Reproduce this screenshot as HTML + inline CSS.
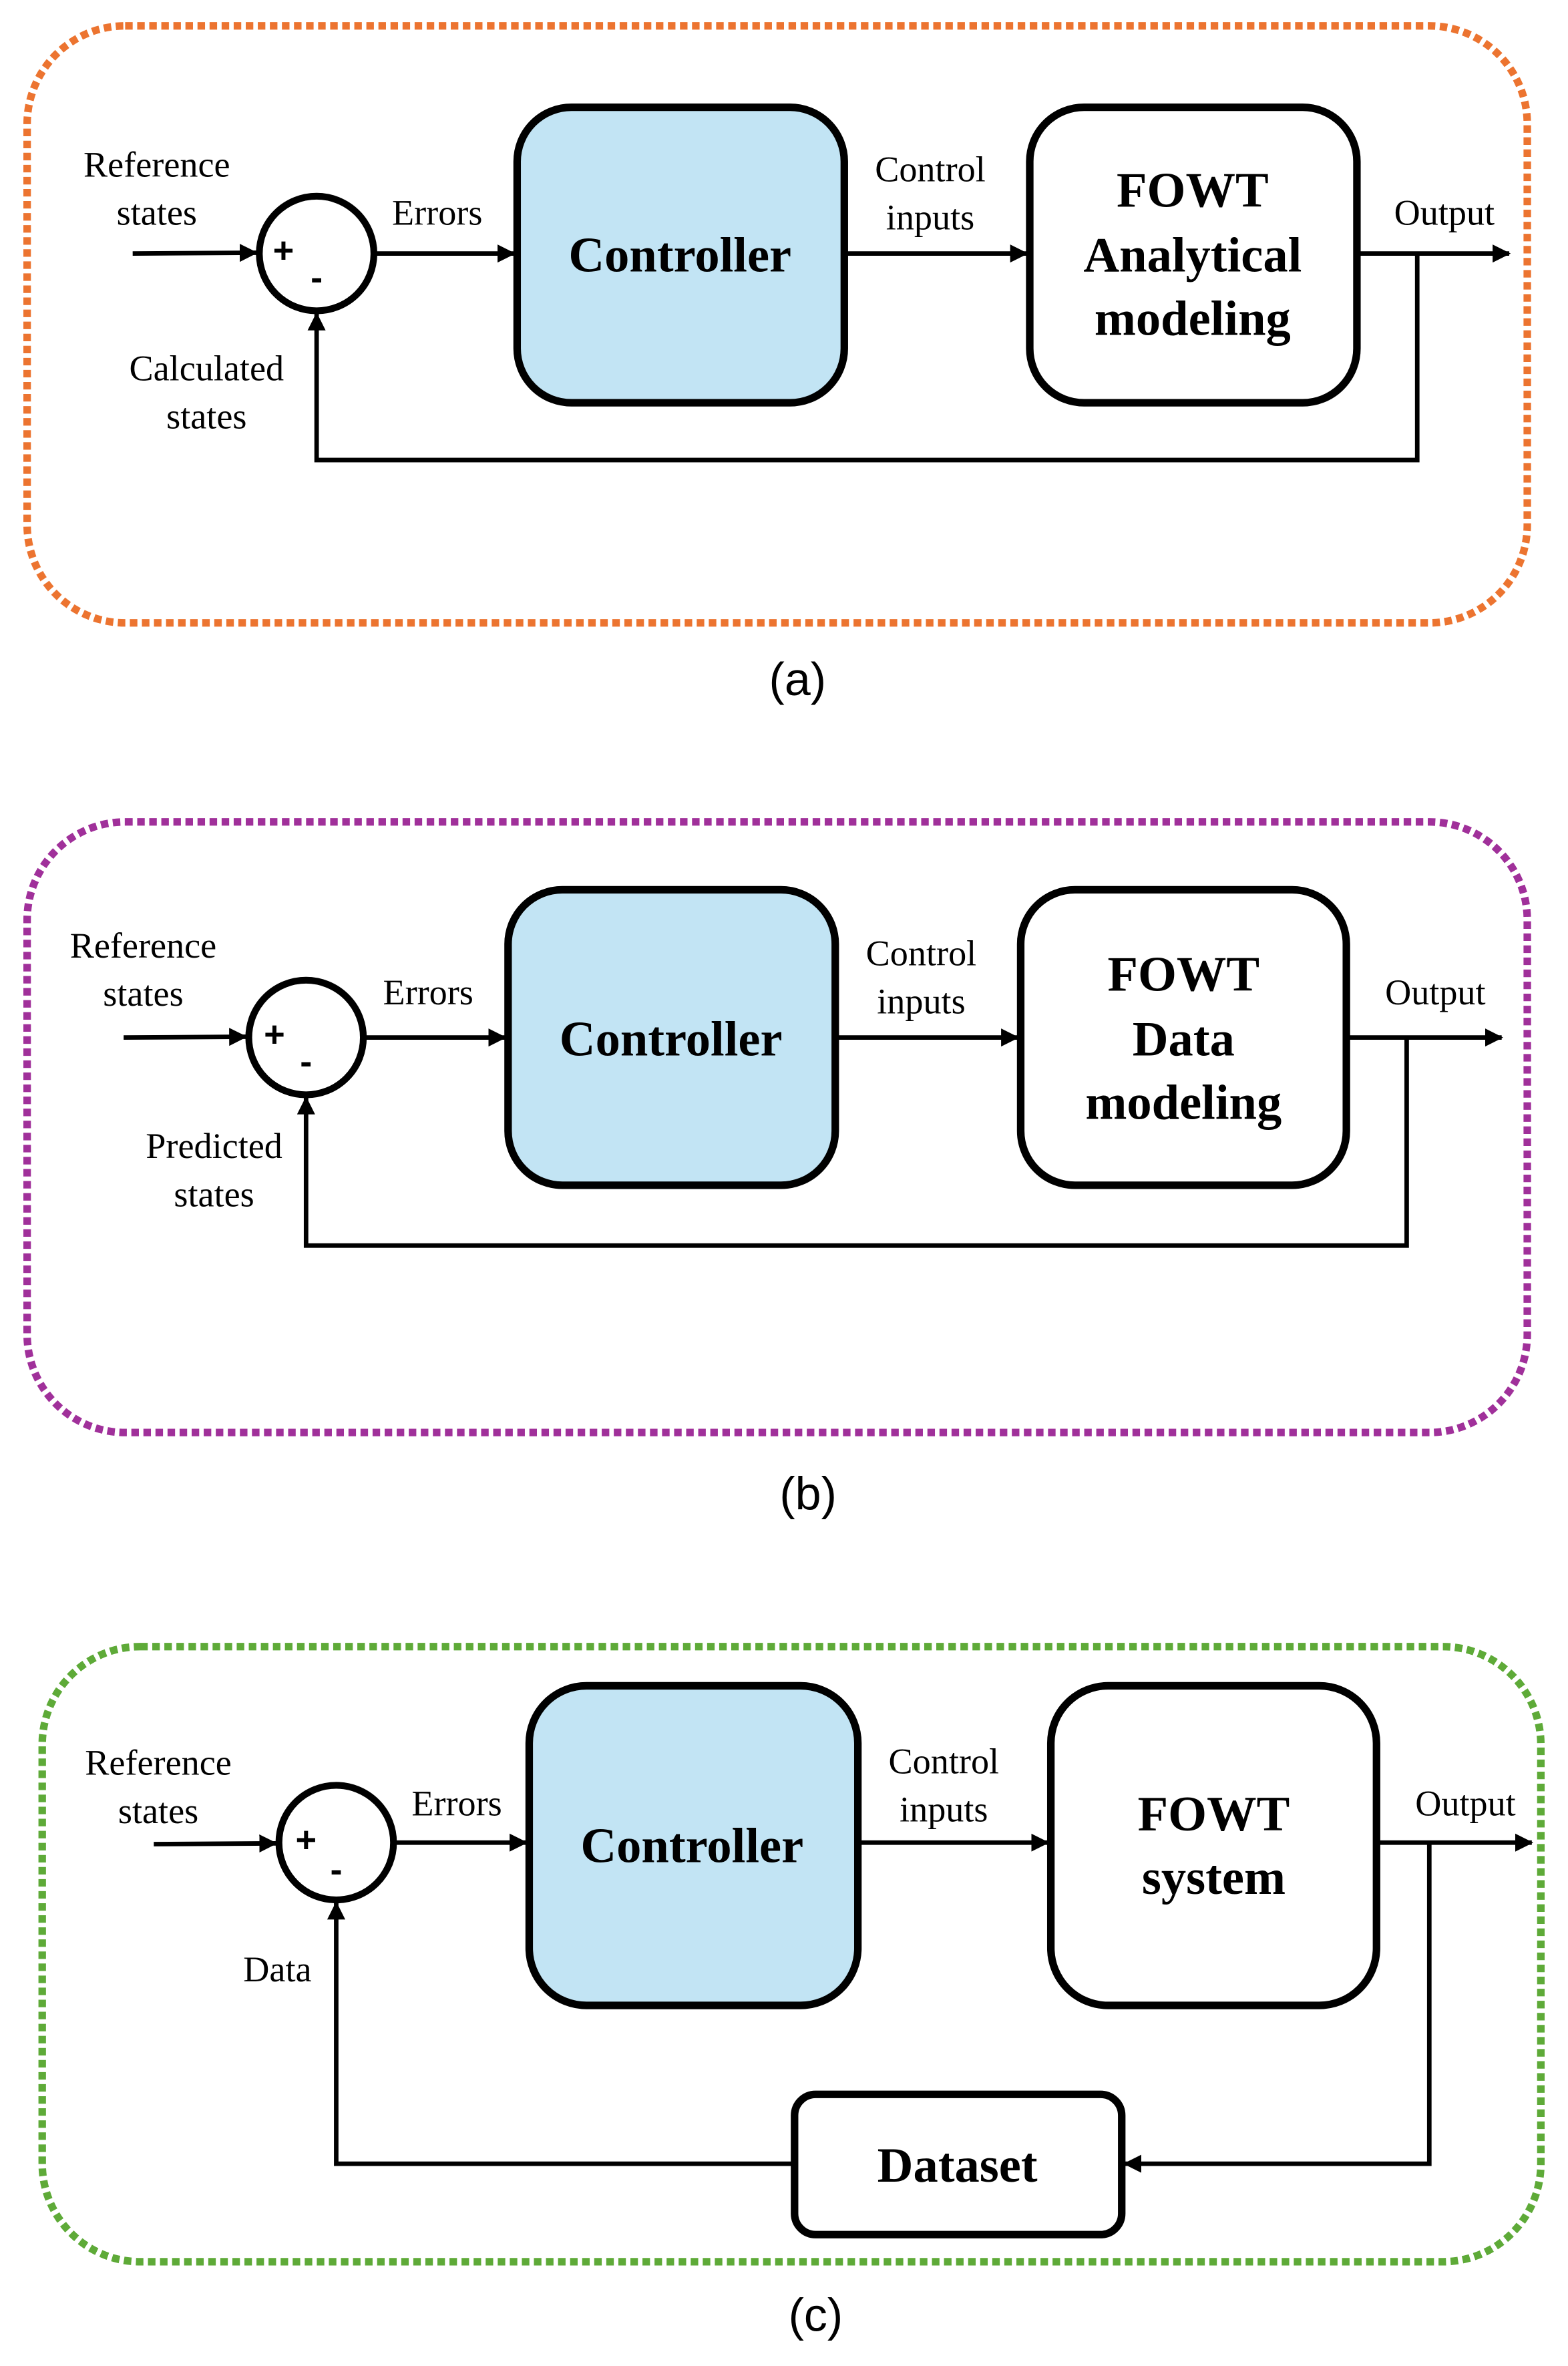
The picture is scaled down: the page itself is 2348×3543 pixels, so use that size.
<!DOCTYPE html>
<html><head><meta charset="utf-8"><style>
html,body{margin:0;padding:0;background:#fff;}
svg{display:block;}
text{font-family:"Liberation Serif","Times New Roman",serif;fill:#000;}
.lbl{font-size:24px;}
.big{font-size:33px;font-weight:bold;}
.cap{font-family:"Liberation Sans",sans-serif;font-size:31px;}
.pm{font-family:"Liberation Sans",sans-serif;font-size:24px;font-weight:bold;}
</style></head><body>
<svg width="2348" height="3543" viewBox="0 0 1040 1569" xmlns="http://www.w3.org/2000/svg">
<defs>
<marker id="ah" markerWidth="12" markerHeight="12" refX="11" refY="6" orient="auto" markerUnits="userSpaceOnUse">
<path d="M0,0 L12,6 L0,12 z" fill="#000"/></marker>
</defs>

<!-- Panel (a) -->
<rect x="18" y="17" width="995" height="396" rx="65" fill="none" stroke="#EC7430" stroke-width="5" stroke-dasharray="5 3"/>
<line x1="88" y1="168" x2="170" y2="167.5" stroke="#000" stroke-width="3" marker-end="url(#ah)"/>
<circle cx="210" cy="168" r="38" fill="#fff" stroke="#000" stroke-width="4.5"/>
<text class="pm" x="188" y="174" text-anchor="middle">+</text>
<text class="pm" x="210" y="192" text-anchor="middle">-</text>
<line x1="248" y1="168" x2="341" y2="168" stroke="#000" stroke-width="3" marker-end="url(#ah)"/>
<rect x="343" y="71" width="217" height="196" rx="36" fill="#C2E4F4" stroke="#000" stroke-width="5"/>
<line x1="560" y1="168" x2="681" y2="168" stroke="#000" stroke-width="3" marker-end="url(#ah)"/>
<rect x="683" y="71" width="217" height="196" rx="36" fill="#fff" stroke="#000" stroke-width="5"/>
<line x1="900" y1="168" x2="1001" y2="168" stroke="#000" stroke-width="3" marker-end="url(#ah)"/>
<polyline points="940,168 940,305 210,305 210,208" fill="none" stroke="#000" stroke-width="3" marker-end="url(#ah)"/>
<text class="lbl" x="104" y="117" text-anchor="middle">Reference</text>
<text class="lbl" x="104" y="149" text-anchor="middle">states</text>
<text class="lbl" x="290" y="149" text-anchor="middle">Errors</text>
<text class="lbl" x="617" y="120" text-anchor="middle">Control</text>
<text class="lbl" x="617" y="152" text-anchor="middle">inputs</text>
<text class="lbl" x="958" y="149" text-anchor="middle">Output</text>
<text class="lbl" x="137" y="252" text-anchor="middle">Calculated</text>
<text class="lbl" x="137" y="284" text-anchor="middle">states</text>
<text class="big" x="451" y="180" text-anchor="middle">Controller</text>
<text class="big" x="791" y="137" text-anchor="middle">FOWT</text>
<text class="big" x="791" y="180" text-anchor="middle">Analytical</text>
<text class="big" x="791" y="222" text-anchor="middle">modeling</text>
<text class="cap" x="529" y="461" text-anchor="middle">(a)</text>

<!-- Panel (b) -->
<rect x="18" y="545" width="995" height="405" rx="65" fill="none" stroke="#A0309A" stroke-width="5" stroke-dasharray="5 3"/>
<line x1="82" y1="688" x2="163" y2="687.5" stroke="#000" stroke-width="3" marker-end="url(#ah)"/>
<circle cx="203" cy="688" r="38" fill="#fff" stroke="#000" stroke-width="4.5"/>
<text class="pm" x="182" y="694" text-anchor="middle">+</text>
<text class="pm" x="203" y="712" text-anchor="middle">-</text>
<line x1="241" y1="688" x2="335" y2="688" stroke="#000" stroke-width="3" marker-end="url(#ah)"/>
<rect x="337" y="590" width="217" height="196" rx="36" fill="#C2E4F4" stroke="#000" stroke-width="5"/>
<line x1="554" y1="688" x2="675" y2="688" stroke="#000" stroke-width="3" marker-end="url(#ah)"/>
<rect x="677" y="590" width="216" height="196" rx="36" fill="#fff" stroke="#000" stroke-width="5"/>
<line x1="893" y1="688" x2="996" y2="688" stroke="#000" stroke-width="3" marker-end="url(#ah)"/>
<polyline points="933,688 933,826 203,826 203,728" fill="none" stroke="#000" stroke-width="3" marker-end="url(#ah)"/>
<text class="lbl" x="95" y="635" text-anchor="middle">Reference</text>
<text class="lbl" x="95" y="667" text-anchor="middle">states</text>
<text class="lbl" x="284" y="666" text-anchor="middle">Errors</text>
<text class="lbl" x="611" y="640" text-anchor="middle">Control</text>
<text class="lbl" x="611" y="672" text-anchor="middle">inputs</text>
<text class="lbl" x="952" y="666" text-anchor="middle">Output</text>
<text class="lbl" x="142" y="768" text-anchor="middle">Predicted</text>
<text class="lbl" x="142" y="800" text-anchor="middle">states</text>
<text class="big" x="445" y="700" text-anchor="middle">Controller</text>
<text class="big" x="785" y="657" text-anchor="middle">FOWT</text>
<text class="big" x="785" y="700" text-anchor="middle">Data</text>
<text class="big" x="785" y="742" text-anchor="middle">modeling</text>
<text class="cap" x="536" y="1001" text-anchor="middle">(b)</text>

<!-- Panel (c) -->
<rect x="28" y="1092" width="994" height="408" rx="65" fill="none" stroke="#5EAA38" stroke-width="5" stroke-dasharray="5 3"/>
<line x1="102" y1="1223" x2="183" y2="1222.5" stroke="#000" stroke-width="3" marker-end="url(#ah)"/>
<circle cx="223" cy="1222" r="38" fill="#fff" stroke="#000" stroke-width="4.5"/>
<text class="pm" x="203" y="1228" text-anchor="middle">+</text>
<text class="pm" x="223" y="1248" text-anchor="middle">-</text>
<line x1="261" y1="1222" x2="349" y2="1222" stroke="#000" stroke-width="3" marker-end="url(#ah)"/>
<rect x="351" y="1118" width="218" height="212" rx="38" fill="#C2E4F4" stroke="#000" stroke-width="5"/>
<line x1="569" y1="1222" x2="695" y2="1222" stroke="#000" stroke-width="3" marker-end="url(#ah)"/>
<rect x="697" y="1118" width="216" height="212" rx="38" fill="#fff" stroke="#000" stroke-width="5"/>
<line x1="913" y1="1222" x2="1016" y2="1222" stroke="#000" stroke-width="3" marker-end="url(#ah)"/>
<polyline points="948,1222 948,1435 746,1435" fill="none" stroke="#000" stroke-width="3" marker-end="url(#ah)"/>
<rect x="527" y="1389" width="217" height="93" rx="14" fill="#fff" stroke="#000" stroke-width="5"/>
<polyline points="527,1435 223,1435 223,1262" fill="none" stroke="#000" stroke-width="3" marker-end="url(#ah)"/>
<text class="lbl" x="105" y="1177" text-anchor="middle">Reference</text>
<text class="lbl" x="105" y="1209" text-anchor="middle">states</text>
<text class="lbl" x="303" y="1204" text-anchor="middle">Errors</text>
<text class="lbl" x="626" y="1176" text-anchor="middle">Control</text>
<text class="lbl" x="626" y="1208" text-anchor="middle">inputs</text>
<text class="lbl" x="972" y="1204" text-anchor="middle">Output</text>
<text class="lbl" x="184" y="1314" text-anchor="middle">Data</text>
<text class="big" x="459" y="1235" text-anchor="middle">Controller</text>
<text class="big" x="805" y="1214" text-anchor="middle">FOWT</text>
<text class="big" x="805" y="1256" text-anchor="middle">system</text>
<text class="big" x="635" y="1447" text-anchor="middle">Dataset</text>
<text class="cap" x="541" y="1546" text-anchor="middle">(c)</text>
</svg>
</body></html>
